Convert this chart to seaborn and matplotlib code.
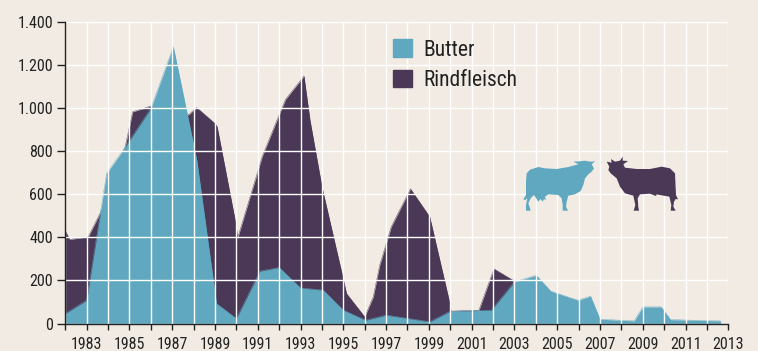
import matplotlib
matplotlib.use("Agg")
import matplotlib.pyplot as plt
from matplotlib.patches import Patch, Polygon
from matplotlib.transforms import Affine2D
import pandas as pd
import seaborn as sns

butter_years = [1982, 1983, 1983.93, 1984.7, 1986, 1987.05, 1988.15, 1989.07, 1990, 1991.1, 1992, 1993,
                1994.06, 1995, 1996.04, 1997, 1999.04, 2000, 2001.92, 2003, 2004.02, 2004.7,
                2005.97, 2006.56, 2007, 2008.6, 2009, 2009.86, 2010.3, 2012.64]
butter_values = [46, 108, 696, 804, 998, 1284, 758, 93, 23, 243, 260, 165,
                 155, 62, 15, 39, 8, 57, 62, 193, 224, 150,
                 108, 127, 20, 12, 77, 77, 18, 12]

beef_years = [1982, 1982.2, 1983.07, 1983.7, 1984.8, 1985.15, 1985.57, 1986, 1987.75, 1988.14, 1989, 1989.1,
              1990, 1990.05, 1991.02, 1991.2, 1991.9, 1992.3, 1993.16, 1993.44, 1994, 1994.97, 1995.15,
              1996, 1996.4, 1996.7, 1997.24, 1998.14, 1999.04, 2000, 2000.03, 2001.34, 2002.04, 2002.93]
beef_values = [430, 390, 402, 526, 820, 982, 995, 1009, 967, 1002, 928, 913,
               449, 394, 712, 773, 944, 1040, 1148, 944, 634, 217, 139,
               31, 124, 270, 449, 625, 495, 85, 57, 62, 254, 201]

x_ticks = list(range(1982, 2014))
x_labels = [str(y) if y % 2 == 1 else "" for y in x_ticks]
y_ticks = [0, 200, 400, 600, 800, 1000, 1200, 1400]
y_labels = ["0", "200", "400", "600", "800", "1.000", "1.200", "1.400"]

BG = "#F2EBE4"
BUTTER = "#5FA8BF"
BEEF = "#4A3856"
INK = "#222222"
W, H = 758, 351

sns.set_theme(style="white")
plt.rcParams["font.family"] = ["Roboto Condensed", "DejaVu Sans"]

butter = pd.DataFrame({"Jahr": butter_years, "Wert": butter_values})
beef = pd.DataFrame({"Jahr": beef_years, "Wert": beef_values})

fig = plt.figure(figsize=(W / 100, H / 100), dpi=100, facecolor=BG)
ax = fig.add_axes([65.3 / W, 1 - 323.5 / H, 663 / W, 301.8 / H], facecolor=BG)

sns.lineplot(data=beef, x="Jahr", y="Wert", color=BEEF, lw=0.3, estimator=None, ax=ax, zorder=1)
ax.fill_between(beef["Jahr"], beef["Wert"], 0, color=BEEF, lw=0, zorder=1)
sns.lineplot(data=butter, x="Jahr", y="Wert", color=BUTTER, lw=0.3, estimator=None, ax=ax, zorder=1.5)
ax.fill_between(butter["Jahr"], butter["Wert"], 0, color=BUTTER, lw=0, zorder=1.5)

ax.set_xlim(1982, 2013)
ax.set_ylim(0, 1400)
ax.set_xlabel("")
ax.set_ylabel("")
ax.set_xticks(x_ticks, x_labels)
ax.set_yticks(y_ticks, y_labels)
ax.grid(True, color="white", lw=1.0)
ax.set_axisbelow(False)
for s in ("top", "right"):
    ax.spines[s].set_visible(False)
for s in ("left", "bottom"):
    ax.spines[s].set_color(INK)
    ax.spines[s].set_linewidth(1.0)
    ax.spines[s].set_zorder(6)
ax.tick_params(axis="y", length=5.8, width=1, color=INK, labelcolor=INK, labelsize=11.5, pad=3,
               left=True)
ax.tick_params(axis="x", length=4.6, width=1, color=INK, labelcolor=INK, labelsize=11.5, pad=5,
               bottom=True)

leg = ax.legend(handles=[Patch(color=BUTTER, label="Butter"), Patch(color=BEEF, label="Rindfleisch")],
                loc="upper left", bbox_to_anchor=((393 - 65.3) / 663, 1 - (39.5 - 21.7) / 301.8),
                frameon=False, fontsize=15.5, borderpad=0, borderaxespad=0,
                handlelength=0.88, handleheight=0.88, handletextpad=0.55, labelspacing=0.42)
for t in leg.get_texts():
    t.set_color(INK)
leg.set_zorder(7)

# Decorative cow silhouettes, outlined in pixels of a 3x enlarged crop
cow_a = [(50, 85), (60, 74), (85, 66), (105, 70), (140, 72), (175, 66), (205, 58), (190, 50), (210, 49), (225, 47),
         (240, 50), (255, 49), (245, 58), (252, 70), (245, 80), (235, 88), (225, 100), (220, 120), (212, 138),
         (195, 148), (175, 152), (170, 170), (168, 185), (174, 197), (158, 197), (158, 180), (155, 160), (145, 150),
         (115, 148), (105, 155), (108, 166), (102, 162), (98, 170), (92, 162), (85, 170), (80, 162), (72, 150),
         (62, 160), (55, 175), (60, 190), (62, 197), (48, 197), (48, 180), (52, 160), (45, 165), (40, 163),
         (48, 150), (48, 110)]
cow_b = [(290, 50), (305, 53), (303, 42), (315, 50), (330, 47), (338, 35), (338, 47), (354, 48), (340, 58), (345, 68),
         (380, 72), (420, 72), (455, 65), (480, 70), (495, 85), (497, 130), (498, 150), (504, 163), (497, 162),
         (492, 170), (490, 185), (497, 197), (482, 197), (484, 180), (478, 155), (450, 150), (440, 148), (438, 153),
         (420, 146), (390, 148), (383, 160), (385, 187), (387, 197), (371, 197), (376, 180), (370, 152), (345, 145),
         (330, 125), (320, 100), (302, 85), (295, 75), (298, 65)]
tr = Affine2D().scale(1 / 3, -1 / 3).translate(510, H - 145)
for pts, col in ((cow_a, BUTTER), (cow_b, BEEF)):
    fig.add_artist(Polygon(pts, closed=True, facecolor=col, edgecolor="none", transform=tr, zorder=8))

fig.savefig("out.png", dpi=100, facecolor=BG)
